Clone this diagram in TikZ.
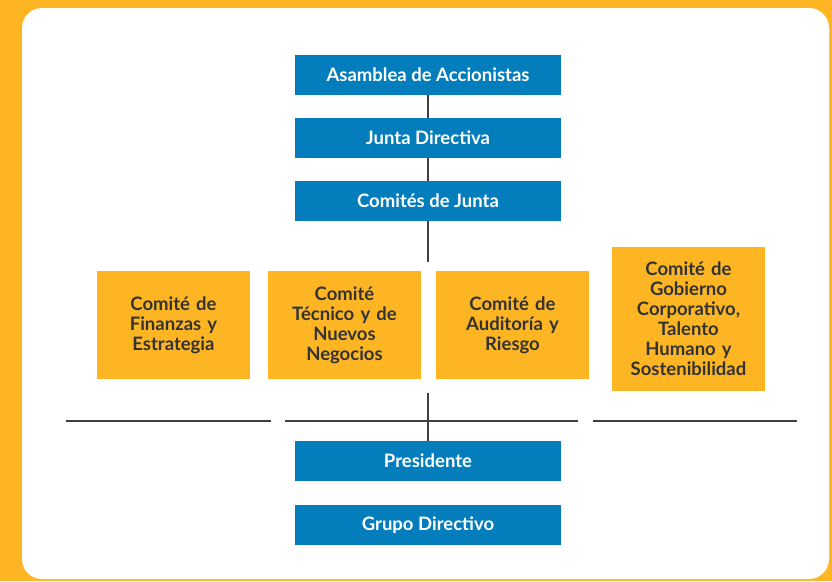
\documentclass[tikz,border=0pt]{standalone}
\usepackage{fontspec}
\setmainfont{Lato}
\usepackage{tikz}
\usetikzlibrary{positioning}

\definecolor{gold}{RGB}{253,181,36}
\definecolor{corpblue}{RGB}{3,125,187}
\definecolor{darkline}{RGB}{64,64,64}
\definecolor{darktext}{RGB}{51,51,51}

\tikzset{
  bluebox/.style={fill=corpblue, text=white, minimum width=266pt, minimum height=40pt, inner sep=0pt, font=\bfseries\fontsize{18.5}{22}\selectfont},
  goldbox/.style={fill=gold, text=darktext, minimum width=153pt, inner sep=0pt, align=center, text width=150pt, font=\bfseries\fontsize{18.5}{20}\selectfont},
  link/.style={darkline, line width=1.8pt},
  rule/.style={darkline, line width=2.8pt}
}

\begin{document}
\begin{tikzpicture}[x=1pt, y=-1pt]
% background
\fill[gold] (0,0) rectangle (832,581);
\fill[white, rounded corners=20pt] (22,8) rectangle (829,579);
\useasboundingbox (0,0) rectangle (832,581);

% governing bodies
\node (asamblea) [bluebox] at (428,75) {Asamblea de Accionistas};
\node (junta) [bluebox] at (428,138) {Junta Directiva};
\node (comites) [bluebox] at (428,201) {Comités de Junta};

% committees
\node (finanzas) [goldbox, minimum height=108pt] at (173.5,325) {Comité de\\Finanzas y\\Estrategia};
\node (tecnico) [goldbox, minimum height=108pt] at (344.5,325) {Comité\\Técnico y de\\Nuevos\\Negocios};
\node (auditoria) [goldbox, minimum height=108pt] at (512.5,325) {Comité de\\Auditoría y\\Riesgo};
\node (gobierno) [goldbox, minimum height=144pt] at (688.5,319) {Comité de\\Gobierno\\Corporativo,\\Talento\\Humano y\\Sostenibilidad};

% management
\node (presidente) [bluebox] at (428,461) {Presidente};
\node (grupo) [bluebox] at (428,525) {Grupo Directivo};

% connectors
\coordinate (stemtop) at (428,262);
\coordinate (stembot) at (428,393);
\draw[link] (asamblea.south) -- (junta.north);
\draw[link] (junta.south) -- (comites.north);
\draw[link] (comites.south) -- (stemtop);
\draw[link] (stembot) -- (presidente.north);

% separator lines
\coordinate (r1a) at (66,421);  \coordinate (r1b) at (271,421);
\coordinate (r2a) at (285,421); \coordinate (r2b) at (578,421);
\coordinate (r3a) at (593,421); \coordinate (r3b) at (797,421);
\draw[rule] (r1a) -- (r1b);
\draw[rule] (r2a) -- (r2b);
\draw[rule] (r3a) -- (r3b);
\end{tikzpicture}
\end{document}
